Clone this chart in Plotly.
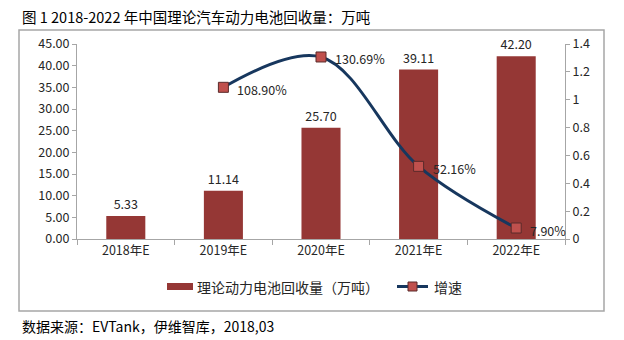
import plotly.graph_objects as go

categories = ["2018年E", "2019年E", "2020年E", "2021年E", "2022年E"]
recovery = [5.33, 11.14, 25.70, 39.11, 42.20]
growth_cats = ["2019年E", "2020年E", "2021年E", "2022年E"]
growth = [1.0890, 1.3069, 0.5216, 0.0790]
growth_labels = ["108.90%", "130.69%", "52.16%", "7.90%"]
left_ticks = [0, 5, 10, 15, 20, 25, 30, 35, 40, 45]
right_ticks = [0, 0.2, 0.4, 0.6, 0.8, 1.0, 1.2, 1.4]
right_tick_text = ["0", "0.2", "0.4", "0.6", "0.8", "1", "1.2", "1.4"]

BAR = "#953735"
LINE = "#17375E"
MARK = "#C0504D"
FONT = "Noto Sans CJK SC, Open Sans, sans-serif"
TXT = "#262626"

fig = go.Figure()
fig.add_trace(go.Bar(
    x=categories, y=recovery, marker=dict(color=BAR, line=dict(width=0)),
    width=0.4, text=[f"{v:.2f}" for v in recovery], textposition="outside",
    textfont=dict(size=12.5, color=TXT, family=FONT), cliponaxis=False,
    showlegend=False, name="理论动力电池回收量（万吨）"))
fig.add_trace(go.Scatter(
    x=growth_cats, y=growth, yaxis="y2", mode="lines+markers",
    line=dict(color=LINE, width=3, shape="spline", smoothing=1.0),
    marker=dict(symbol="square", size=10, color=MARK, line=dict(color="#5a2a2a", width=1)),
    cliponaxis=False, showlegend=False, name="增速"))

W, H = 624, 340
L, R, T, B = 77, 565, 44, 239
pw, ph = R - L, B - T
def px(x): return (x - L) / pw
def py(y): return (B - y) / ph

shapes = [
    dict(type="rect", xref="paper", yref="paper", x0=px(19), x1=px(604), y0=py(311), y1=py(30),
         line=dict(color="#A6A6A6", width=1.5), fillcolor="rgba(0,0,0,0)", layer="below"),
    dict(type="rect", xref="paper", yref="paper", x0=px(167), x1=px(193), y0=py(290), y1=py(283),
         line=dict(width=0), fillcolor=BAR),
    dict(type="line", xref="paper", yref="paper", x0=px(397), x1=px(428), y0=py(286.5), y1=py(286.5),
         line=dict(color=LINE, width=3)),
    dict(type="rect", xref="paper", yref="paper", x0=px(408), x1=px(417), y0=py(291), y1=py(282),
         line=dict(color="#5a2a2a", width=1), fillcolor=MARK),
]
annotations = [
    dict(text="图 1 2018-2022 年中国理论汽车动力电池回收量：万吨", xref="paper", yref="paper",
         x=px(20), y=py(16), xanchor="left", yanchor="middle", showarrow=False,
         font=dict(size=14.5, color="#000000", family=FONT)),
    dict(text="数据来源：EVTank，伊维智库，2018,03", xref="paper", yref="paper",
         x=px(20), y=py(326), xanchor="left", yanchor="middle", showarrow=False,
         font=dict(size=14, color="#000000", family=FONT)),
    dict(text="理论动力电池回收量（万吨）", xref="paper", yref="paper",
         x=px(195), y=py(286.5), xanchor="left", yanchor="middle", showarrow=False,
         font=dict(size=14, color=TXT, family=FONT)),
    dict(text="增速", xref="paper", yref="paper",
         x=px(432), y=py(286.5), xanchor="left", yanchor="middle", showarrow=False,
         font=dict(size=14, color=TXT, family=FONT)),
]
for c, v, t in zip(growth_cats, growth, growth_labels):
    annotations.append(dict(text=t, xref="x", yref="y2", x=c, y=v, xanchor="left",
                            yanchor="middle", xshift=12, yshift=-2, showarrow=False,
                            font=dict(size=12.5, color=TXT, family=FONT)))

fig.update_layout(
    width=W, height=H, margin=dict(l=L, r=W - R, t=T, b=H - B),
    paper_bgcolor="white", plot_bgcolor="white", font=dict(family=FONT, size=12, color=TXT),
    bargap=0.6, shapes=shapes, annotations=annotations, showlegend=False,
    xaxis=dict(type="category", categoryorder="array", categoryarray=categories,
               showline=True, linecolor="#A6A6A6", linewidth=1, showgrid=False,
               ticks="outside", ticklen=5, tickcolor="#A6A6A6", tickson="boundaries",
               tickfont=dict(size=12.5, color=TXT, family=FONT), range=[-0.5, 4.5]),
    yaxis=dict(range=[0, 45], tickvals=left_ticks, ticktext=[f"{v:.2f}" for v in left_ticks],
               showline=True, linecolor="#A6A6A6", linewidth=1, showgrid=False,
               ticks="outside", ticklen=4, tickcolor="#A6A6A6", zeroline=False,
               tickfont=dict(size=12.5, color=TXT, family=FONT)),
    yaxis2=dict(range=[0, 1.4], overlaying="y", side="right", tickvals=right_ticks,
                ticktext=right_tick_text, showline=True, linecolor="#A6A6A6", linewidth=1,
                showgrid=False, ticks="outside", ticklen=4, tickcolor="#A6A6A6", zeroline=False,
                tickfont=dict(size=12.5, color=TXT, family=FONT)),
)

fig.write_html("out.html")
